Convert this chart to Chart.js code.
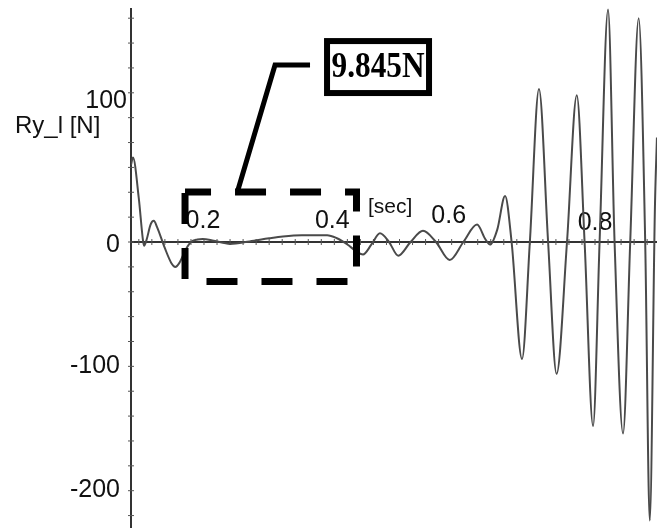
<!DOCTYPE html>
<html>
<head>
<meta charset="utf-8">
<script src="https://cdn.jsdelivr.net/npm/chart.js@4/dist/chart.umd.min.js"></script>
<style>
  html, body { margin: 0; padding: 0; background: #ffffff; }
  #wrap { width: 664px; height: 528px; position: relative; }
</style>
</head>
<body>
<div id="wrap"><canvas id="c" width="664" height="528"></canvas></div>
<script>
// ---- data ----
const timeSec = [0.088, 0.091, 0.100, 0.106, 0.108, 0.112, 0.118, 0.123, 0.128, 0.140, 0.150, 0.156, 0.162, 0.172, 0.180, 0.190, 0.198, 0.215, 0.240, 0.270, 0.300, 0.321, 0.350, 0.389, 0.404, 0.420, 0.435, 0.444, 0.457, 0.470, 0.484, 0.498, 0.517, 0.536, 0.556, 0.577, 0.598, 0.619, 0.632, 0.639, 0.650, 0.662, 0.672, 0.688, 0.700, 0.714, 0.728, 0.741, 0.757, 0.772, 0.784, 0.797, 0.807, 0.820, 0.830, 0.843, 0.854, 0.867, 0.877, 0.884, 0.892, 0.895];
const ryForce = [62, 68, 35, 3, -3, 2, 14, 17, 12, -5, -17, -20, -17, -6, 0, 2, 2.5, 1, -1.5, 0.5, 3, 4.5, 5.5, 5.5, 3, -2, -8, -10, -2, 7, 0, -11, 0, 9, 0, -14.5, 0, 14, 2, -2, 10, 37, 0, -94, 0, 123, 0, -106, 0, 118, 0, -148, 0, 187, 0, -154, 0, 180, 0, -224, 30, 84];
const xTickValues = [0.2, 0.4, 0.6, 0.8];
const xTickLabels = ['0.2', '0.4', '0.6', '0.8'];
const yTickValues = [100, 0, -100, -200];
const yTickLabels = ['100', '0', '-100', '-200'];
const yAxisTitle = 'Ry_l [N]';
const xAxisTitle = '[sec]';
const calloutText = '9.845N';

const points = timeSec.map((t, i) => ({ x: t, y: ryForce[i] }));

const axesPlugin = {
  id: 'crossAxes',
  beforeDatasetsDraw(chart) {
    const { ctx, scales: { x, y } } = chart;
    const x0 = x.left;
    const y0 = y.getPixelForValue(0);
    ctx.save();
    ctx.strokeStyle = '#333333';
    ctx.lineWidth = 2;
    // axis lines
    ctx.beginPath();
    ctx.moveTo(x0, y.top);
    ctx.lineTo(x0, y.bottom);
    ctx.moveTo(x.left, y0);
    ctx.lineTo(x.right, y0);
    ctx.stroke();
    // minor ticks
    ctx.lineWidth = 1;
    ctx.strokeStyle = '#555555';
    ctx.beginPath();
    for (let v = -220; v <= 180; v += 20) {
      const py = y.getPixelForValue(v);
      ctx.moveTo(x0 - 3, py); ctx.lineTo(x0 + 3, py);
    }
    for (let k = 5; k <= 44; k++) {
      const px = x.getPixelForValue(k * 0.02);
      if (px < x.left + 2 || px > x.right) continue;
      ctx.moveTo(px, y0 - 3); ctx.lineTo(px, y0 + 3);
    }
    ctx.stroke();

    // tick labels
    ctx.fillStyle = '#111111';
    ctx.font = '25px "Liberation Sans", Arial, sans-serif';
    ctx.textBaseline = 'middle';
    ctx.textAlign = 'right';
    const yAdj = { '100': [7, -17], '0': [0, 3], '-100': [0, 0], '-200': [0, -1] };
    yTickValues.forEach((v, i) => {
      const a = yAdj[yTickLabels[i]] || [0, 0];
      ctx.fillText(yTickLabels[i], x0 - 11 + a[0], y.getPixelForValue(v) + a[1]);
    });
    ctx.textAlign = 'center';
    const xAdj = { '0.2': [-1, 0], '0.4': [-2, 0], '0.6': [-16, -5], '0.8': [0, 2] };
    xTickValues.forEach((v, i) => {
      const a = xAdj[xTickLabels[i]] || [0, 0];
      ctx.fillText(xTickLabels[i], x.getPixelForValue(v) + a[0], y0 - 21 + a[1]);
    });
    // axis titles
    ctx.font = '24px "Liberation Sans", Arial, sans-serif';
    ctx.textAlign = 'left';
    ctx.fillText(yAxisTitle, 15, y.getPixelForValue(93));
    ctx.font = '21px "Liberation Sans", Arial, sans-serif';
    ctx.textAlign = 'center';
    ctx.fillText(xAxisTitle, x.getPixelForValue(0.4855), y.getPixelForValue(28));
    ctx.restore();
  },
  afterDatasetsDraw(chart) {
    const { ctx, scales: { x, y } } = chart;
    ctx.save();
    ctx.strokeStyle = '#000000';
    // dashed zoom rectangle
    const rx1 = x.getPixelForValue(0.1709), rx2 = x.getPixelForValue(0.4340);
    const ry1 = y.getPixelForValue(40.2), ry2 = y.getPixelForValue(-31.8);
    ctx.lineWidth = 7;
    ctx.setLineDash([31, 24]);
    ctx.lineDashOffset = 5;
    ctx.strokeRect(rx1, ry1, rx2 - rx1, ry2 - ry1);
    ctx.setLineDash([]);
    // leader line
    ctx.lineWidth = 5;
    ctx.lineJoin = 'miter';
    ctx.beginPath();
    ctx.moveTo(x.getPixelForValue(0.2522), y.getPixelForValue(42));
    ctx.lineTo(x.getPixelForValue(0.3090), y.getPixelForValue(142.3));
    ctx.lineTo(x.getPixelForValue(0.3627), y.getPixelForValue(142.3));
    ctx.stroke();
    // callout box
    const bx1 = x.getPixelForValue(0.3888), bx2 = x.getPixelForValue(0.5453);
    const by1 = y.getPixelForValue(161.6), by2 = y.getPixelForValue(119.8);
    ctx.fillStyle = '#ffffff';
    ctx.fillRect(bx1, by1, bx2 - bx1, by2 - by1);
    ctx.lineWidth = 6;
    ctx.strokeRect(bx1, by1, bx2 - bx1, by2 - by1);
    // callout text
    ctx.fillStyle = '#000000';
    ctx.font = 'bold 35px "Liberation Serif", "Times New Roman", serif';
    ctx.textAlign = 'center';
    ctx.textBaseline = 'middle';
    const cx = (bx1 + bx2) / 2, cy = (by1 + by2) / 2 + 1;
    const w = ctx.measureText(calloutText).width;
    const sx = 93 / w;
    ctx.translate(cx, cy);
    ctx.scale(sx, 1);
    ctx.fillText(calloutText, 0, 0);
    ctx.restore();
  }
};

new Chart(document.getElementById('c'), {
  type: 'line',
  data: {
    datasets: [{
      data: points,
      borderColor: '#4a4a4a',
      borderWidth: 2,
      pointRadius: 0,
      fill: false,
      cubicInterpolationMode: 'monotone'
    }]
  },
  options: {
    responsive: false,
    animation: false,
    devicePixelRatio: 1,
    layout: { padding: { left: 131, right: 7, top: 8, bottom: 0 } },
    plugins: { legend: { display: false }, tooltip: { enabled: false } },
    scales: {
      x: { type: 'linear', display: false, min: 0.088, max: 0.8951 },
      y: { type: 'linear', display: false, min: -230, max: 188.2 }
    }
  },
  plugins: [axesPlugin]
});
</script>
</body>
</html>
